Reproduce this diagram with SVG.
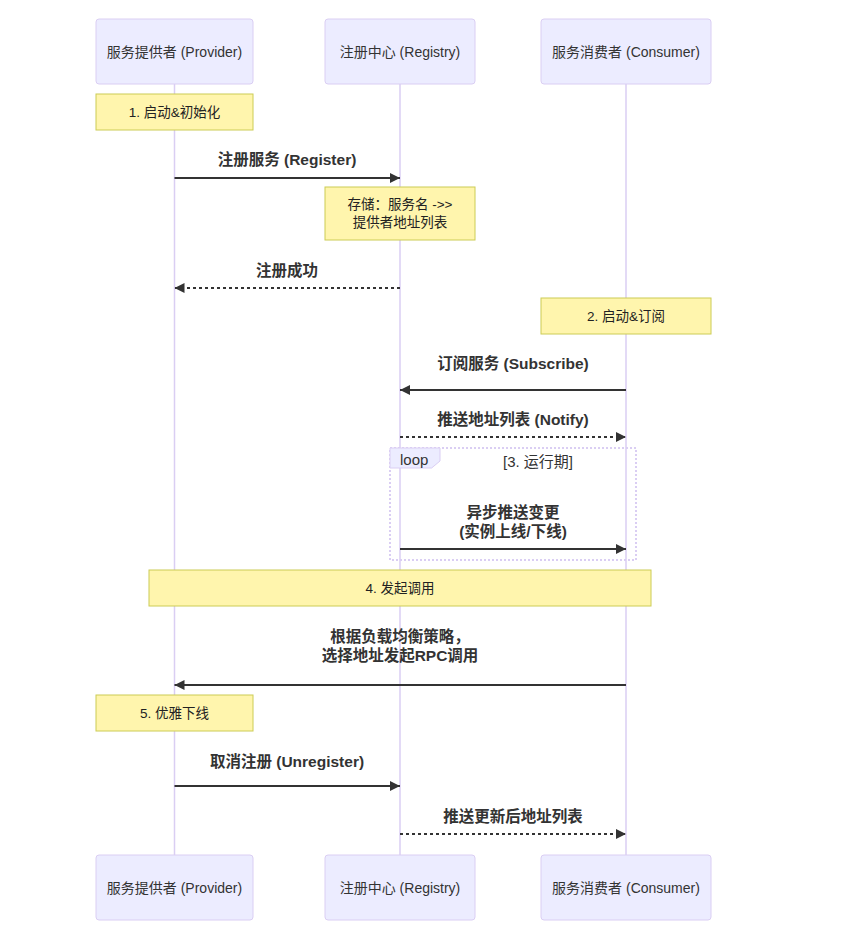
<svg xmlns="http://www.w3.org/2000/svg" width="841" height="950" viewBox="0 0 841 950">
<style>
text{font-family:"Liberation Sans","Noto Sans CJK SC",sans-serif;fill:#333;}
.actor rect{fill:#ECECFF;stroke:#DACEF3;stroke-width:1;}
.actor text{font-size:14px;text-anchor:middle;dominant-baseline:central;fill:#333;}
.life{stroke:#DACEF3;stroke-width:1.5;}
.note rect{fill:#FFF5AD;stroke:#CCCC55;stroke-width:1;}
.note text{font-size:13.5px;text-anchor:middle;dominant-baseline:central;fill:#222;}
.msg{stroke:#333;stroke-width:2;fill:none;}
.dash{stroke-dasharray:3,3;}
.lbl{font-size:15.5px;font-weight:bold;text-anchor:middle;dominant-baseline:central;}
.loop rect{fill:none;stroke:#DACEF3;stroke-width:2;stroke-dasharray:2,2;}
.loop polygon{fill:#ECECFF;stroke:#DACEF3;stroke-width:1;}
.loop text{font-size:15px;dominant-baseline:central;}
</style>
<defs>
<marker id="ah" markerUnits="userSpaceOnUse" markerWidth="12" markerHeight="12" refX="10" refY="5" orient="auto">
<path d="M0,0 L10,5 L0,10 z" fill="#333"/>
</marker>
</defs>
<rect width="841" height="950" fill="#fff"/>
<g id="lifelines">
<line class="life" x1="174.5" y1="84" x2="174.5" y2="855"/>
<line class="life" x1="400" y1="84" x2="400" y2="855"/>
<line class="life" x1="626" y1="84" x2="626" y2="855"/>
</g>
<g id="actor-provider-top" class="actor"><rect x="96" y="19" width="157" height="65" rx="3"/><text x="174.5" y="52">服务提供者 (Provider)</text></g>
<g id="actor-registry-top" class="actor"><rect x="325" y="19" width="150" height="65" rx="3"/><text x="400" y="52">注册中心 (Registry)</text></g>
<g id="actor-consumer-top" class="actor"><rect x="541" y="19" width="170" height="65" rx="3"/><text x="626" y="52">服务消费者 (Consumer)</text></g>
<g id="actor-provider-bottom" class="actor"><rect x="96" y="855" width="157" height="65" rx="3"/><text x="174.5" y="888">服务提供者 (Provider)</text></g>
<g id="actor-registry-bottom" class="actor"><rect x="325" y="855" width="150" height="65" rx="3"/><text x="400" y="888">注册中心 (Registry)</text></g>
<g id="actor-consumer-bottom" class="actor"><rect x="541" y="855" width="170" height="65" rx="3"/><text x="626" y="888">服务消费者 (Consumer)</text></g>
<g id="note1" class="note"><rect x="96" y="94" width="157" height="36"/><text x="174.5" y="112">1. 启动&amp;初始化</text></g>
<g id="note-store" class="note"><rect x="325" y="187" width="150" height="53"/><text x="400" y="204">存储：服务名 -&gt;&gt;</text><text x="400" y="222">提供者地址列表</text></g>
<g id="note2" class="note"><rect x="541" y="298" width="170" height="36"/><text x="626" y="316">2. 启动&amp;订阅</text></g>
<g id="loop" class="loop"><rect x="390" y="448" width="246" height="112"/><polygon points="390,448 440,448 440,461 431.6,468 390,468"/><text x="400" y="459">loop</text><text x="538" y="461" text-anchor="middle">[3. 运行期]</text></g>
<g id="note4" class="note"><rect x="149" y="570" width="502" height="36"/><text x="400" y="588">4. 发起调用</text></g>
<g id="note5" class="note"><rect x="96" y="695" width="157" height="36"/><text x="174.5" y="713">5. 优雅下线</text></g>
<g id="connectors">
<line class="msg" x1="174.5" y1="178" x2="400" y2="178" marker-end="url(#ah)"/>
<text class="lbl" x="287" y="159">注册服务 (Register)</text>
<line class="msg dash" x1="400" y1="288" x2="174.5" y2="288" marker-end="url(#ah)"/>
<text class="lbl" x="287" y="270">注册成功</text>
<line class="msg" x1="626" y1="390" x2="400" y2="390" marker-end="url(#ah)"/>
<text class="lbl" x="513" y="363">订阅服务 (Subscribe)</text>
<line class="msg dash" x1="400" y1="437" x2="626" y2="437" marker-end="url(#ah)"/>
<text class="lbl" x="513" y="419">推送地址列表 (Notify)</text>
<line class="msg" x1="400" y1="549" x2="626" y2="549" marker-end="url(#ah)"/>
<text class="lbl" x="513" y="512">异步推送变更</text>
<text class="lbl" x="513" y="531">(实例上线/下线)</text>
<line class="msg" x1="626" y1="685" x2="174.5" y2="685" marker-end="url(#ah)"/>
<text class="lbl" x="400" y="636">根据负载均衡策略，</text>
<text class="lbl" x="400" y="655">选择地址发起RPC调用</text>
<line class="msg" x1="174.5" y1="786" x2="400" y2="786" marker-end="url(#ah)"/>
<text class="lbl" x="287" y="761">取消注册 (Unregister)</text>
<line class="msg dash" x1="400" y1="834" x2="626" y2="834" marker-end="url(#ah)"/>
<text class="lbl" x="513" y="816">推送更新后地址列表</text>
</g>
</svg>
